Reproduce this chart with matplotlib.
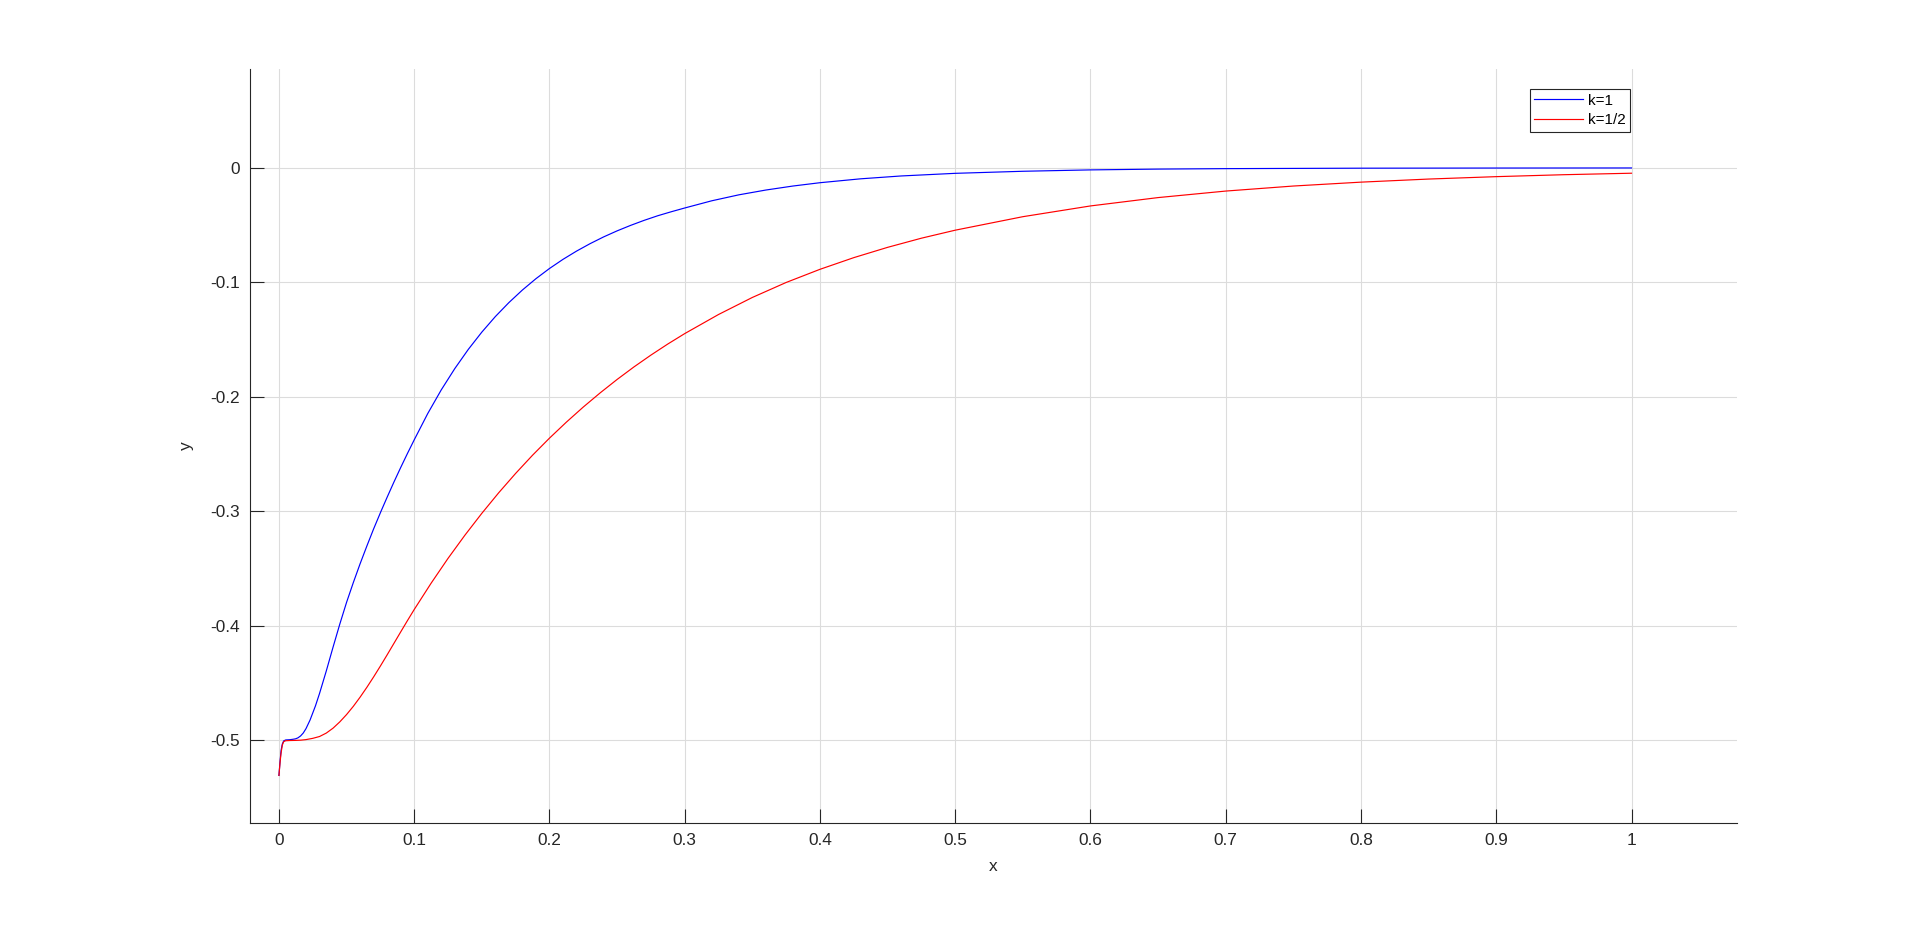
import matplotlib
matplotlib.use("Agg")
import matplotlib.pyplot as plt

plt.rcParams['font.family'] = ['Liberation Sans', 'DejaVu Sans']
plt.rcParams['axes.unicode_minus'] = False

# k = 1 (blue) values
x_k1 = [0.0, 0.0008, 0.0016, 0.0025, 0.0035, 0.005, 0.008, 0.0105, 0.0123, 0.014,
        0.016, 0.018, 0.02, 0.023, 0.027, 0.03, 0.035, 0.04, 0.045, 0.05,
        0.055, 0.06, 0.065, 0.07, 0.0755, 0.08, 0.085, 0.09, 0.095, 0.1,
        0.11, 0.12, 0.13, 0.14, 0.15, 0.16, 0.17, 0.18, 0.19, 0.2,
        0.21, 0.22, 0.23, 0.24, 0.25, 0.26, 0.27, 0.28, 0.29, 0.3,
        0.32, 0.34, 0.36, 0.38, 0.4, 0.43, 0.46, 0.5, 0.55, 0.6,
        0.65, 0.7, 0.8, 0.9, 1.0]
y_k1 = [-0.531, -0.519, -0.509, -0.5035, -0.5008, -0.5, -0.4998, -0.4994, -0.499, -0.4982,
        -0.4965, -0.4939, -0.4901, -0.4826, -0.4702, -0.4594, -0.4397, -0.4189, -0.3987, -0.3797,
        -0.3624, -0.3460, -0.3305, -0.3155, -0.300, -0.2878, -0.2746, -0.2619, -0.2496, -0.2377,
        -0.2147, -0.1940, -0.1754, -0.1586, -0.1435, -0.1299, -0.1177, -0.1067, -0.0968, -0.0879,
        -0.0799, -0.0727, -0.0662, -0.0603, -0.0550, -0.0502, -0.0458, -0.0418, -0.0383, -0.0350,
        -0.0287, -0.0235, -0.0193, -0.0158, -0.0129, -0.0095, -0.0070, -0.0047, -0.0029, -0.0017,
        -0.0010, -0.0006, -0.0002, -0.00007, 0.0]

# k = 1/2 (red) values
x_k2 = [0.0, 0.0008, 0.0015, 0.0025, 0.0035, 0.005, 0.008, 0.012, 0.016, 0.02,
        0.025, 0.03, 0.035, 0.04, 0.045, 0.05, 0.055, 0.06, 0.065, 0.07,
        0.075, 0.08, 0.085, 0.09, 0.095, 0.1, 0.1125, 0.125, 0.1375, 0.15,
        0.1625, 0.175, 0.1875, 0.2, 0.2125, 0.225, 0.2375, 0.25, 0.2625, 0.275,
        0.2875, 0.3, 0.325, 0.35, 0.375, 0.4, 0.425, 0.45, 0.475, 0.5,
        0.55, 0.6, 0.65, 0.7, 0.75, 0.8, 0.85, 0.9, 0.95, 1.0]
y_k2 = [-0.531, -0.520, -0.512, -0.5045, -0.5015, -0.5007, -0.5005, -0.5004, -0.5002, -0.4997,
        -0.4986, -0.4970, -0.4940, -0.4897, -0.4842, -0.4778, -0.4706, -0.4626, -0.4540, -0.4449,
        -0.4354, -0.4256, -0.4156, -0.4056, -0.3957, -0.386, -0.3630, -0.3413, -0.3210, -0.3019,
        -0.2839, -0.2670, -0.2511, -0.2362, -0.2222, -0.2090, -0.1966, -0.1849, -0.1739, -0.1636,
        -0.1539, -0.1448, -0.1281, -0.1132, -0.1001, -0.0886, -0.0784, -0.0694, -0.0614, -0.0544,
        -0.0426, -0.0332, -0.0259, -0.0202, -0.0158, -0.0124, -0.0097, -0.0076, -0.0059, -0.0046]

x_ticks = [0, 0.1, 0.2, 0.3, 0.4, 0.5, 0.6, 0.7, 0.8, 0.9, 1]
x_tick_labels = ['0', '0.1', '0.2', '0.3', '0.4', '0.5', '0.6', '0.7', '0.8', '0.9', '1']
y_ticks = [-0.5, -0.4, -0.3, -0.2, -0.1, 0]
y_tick_labels = ['-0.5', '-0.4', '-0.3', '-0.2', '-0.1', '0']
series_labels = ['k=1', 'k=1/2']

W, H = 1920, 926
fig = plt.figure(figsize=(W / 100, H / 100), dpi=100)
left, right, top, bottom = 250, 1737, 69, 823
ax = fig.add_axes([left / W, 1 - bottom / H, (right - left) / W, (bottom - top) / H])

ax.plot(x_k1, y_k1, color='#0000ff', lw=0.85, label=series_labels[0])
ax.plot(x_k2, y_k2, color='#ff0000', lw=0.85, label=series_labels[1])

ax.set_xlim(-0.0214, 1.078)
ax.set_ylim(-0.5726, 0.0865)
ax.set_xticks(x_ticks)
ax.set_xticklabels(x_tick_labels)
ax.set_yticks(y_ticks)
ax.set_yticklabels(y_tick_labels)

axis_col = '#262626'
for s in ['top', 'right']:
    ax.spines[s].set_visible(False)
for s in ['left', 'bottom']:
    ax.spines[s].set_color(axis_col)
    ax.spines[s].set_linewidth(0.8)

ax.tick_params(direction='in', length=10, width=0.8, colors=axis_col,
               labelsize=12.4, pad=7, labelcolor=axis_col)
ax.grid(True, color='#dcdcdc', linewidth=0.8)
ax.set_axisbelow(True)

ax.set_xlabel('x', fontsize=12.4, color=axis_col, labelpad=8)
ax.set_ylabel('y', fontsize=12.4, color=axis_col, labelpad=12)

leg = ax.legend(loc='upper right', bbox_to_anchor=(1630 / W, 1 - 89 / H),
                bbox_transform=fig.transFigure, fontsize=11, frameon=True,
                fancybox=False, framealpha=1, edgecolor='#262626',
                handlelength=3.2, handletextpad=0.3, borderpad=0.3,
                labelspacing=0.35, borderaxespad=0)
leg.get_frame().set_linewidth(0.8)

fig.savefig('out.png', dpi=100)
